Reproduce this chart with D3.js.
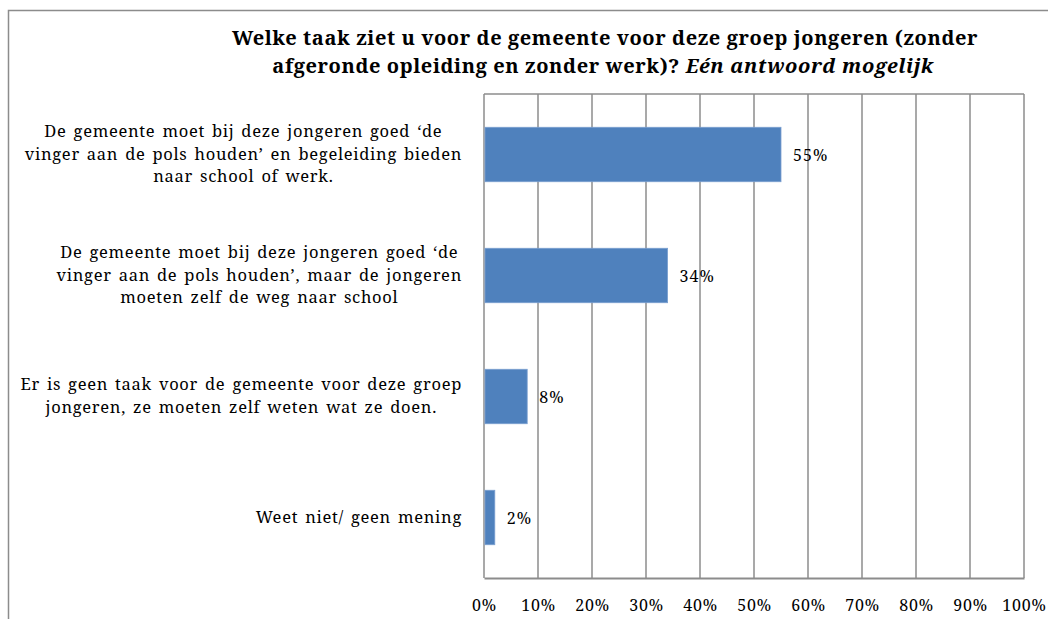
<!DOCTYPE html>
<html lang="nl">
<head>
<meta charset="utf-8">
<title>Taak gemeente jongeren</title>
<script src="https://d3js.org/d3.v7.min.js"></script>
<style>
    body { margin: 0; background: #fff; }
    svg { display: block; }
    text { font-family: "Noto Serif", "Liberation Serif", serif; fill: #000; }
    .grid line { stroke: #8c8c8c; stroke-width: 1.5px; }
</style>
</head>
<body>
<svg width="1048" height="619"></svg>
<script>
    // data
    var categories = [
        ["De gemeente moet bij deze jongeren goed \u2018de", "vinger aan de pols houden\u2019 en begeleiding bieden", "naar school of werk."],
        ["De gemeente moet bij deze jongeren goed \u2018de", "vinger aan de pols houden\u2019, maar de jongeren", "moeten zelf de weg naar school"],
        ["Er is geen taak voor de gemeente voor deze groep", "jongeren, ze moeten zelf weten wat ze doen."],
        ["Weet niet/ geen mening"]
    ];
    var values = [55, 34, 8, 2];
    var ticks = [0, 10, 20, 30, 40, 50, 60, 70, 80, 90, 100];
    var titleLine1 = "Welke taak ziet u voor de gemeente voor deze groep jongeren (zonder";
    var titleLine2 = "afgeronde opleiding en zonder werk)? ";
    var titleItalic = "Eén antwoord mogelijk";

    var svg = d3.select("svg"),
        margin = {top: 94, right: 24, bottom: 41, left: 484},
        width = 1048 - margin.left - margin.right,
        height = 619 - margin.top - margin.bottom;

    // outer chart border
    svg.append("rect")
        .attr("x", 8.5).attr("y", 10.5)
        .attr("width", 1100).attr("height", 700)
        .attr("fill", "none").attr("stroke", "#8c8c8c").attr("stroke-width", 1.5);

    var title = svg.append("text")
        .attr("x", 605).attr("y", 45)
        .attr("text-anchor", "middle")
        .style("font-size", "20px").style("font-weight", "bold").style("letter-spacing", "0.6px");
    title.append("tspan").text(titleLine1);
    var t2 = svg.append("text")
        .attr("x", 603).attr("y", 73)
        .attr("text-anchor", "middle")
        .style("font-size", "20px").style("font-weight", "bold").style("letter-spacing", "0.6px");
    t2.append("tspan").text(titleLine2);
    t2.append("tspan").style("font-style", "italic").text(titleItalic);

    var g = svg.append("g").attr("transform", "translate(" + margin.left + "," + margin.top + ")");

    var x = d3.scaleLinear().domain([0, 100]).range([0, width]);
    var y = d3.scaleBand().domain(d3.range(values.length)).range([0, height]).paddingInner(0.55).paddingOuter(0.275);

    // vertical gridlines
    g.append("g").attr("class", "grid")
        .selectAll("line").data(ticks).enter().append("line")
        .attr("x1", function(d) { return x(d); })
        .attr("x2", function(d) { return x(d); })
        .attr("y1", 0).attr("y2", height);
    g.append("line").attr("x1", 0).attr("x2", width).attr("y1", 0).attr("y2", 0)
        .attr("stroke", "#8c8c8c").attr("stroke-width", 1.5);

    g.selectAll(".bar").data(values).enter().append("rect")
        .attr("class", "bar")
        .attr("x", x(0) + 1)
        .attr("y", function(d, i) { return y(i); })
        .attr("width", function(d) { return x(d) - x(0) - 1; })
        .attr("height", y.bandwidth())
        .attr("fill", "#4f81bd")
        .attr("stroke", "#7a9fd0").attr("stroke-width", 0.8);

    g.selectAll(".val").data(values).enter().append("text")
        .attr("class", "val")
        .attr("x", function(d) { return x(d) + 12; })
        .attr("y", function(d, i) { return y(i) + y.bandwidth() / 2 + 6; })
        .style("font-size", "16px").style("letter-spacing", "1px")
        .text(function(d) { return d + "%"; });

    // x axis (bottom line + labels)
    var xAxis = g.append("g")
        .attr("transform", "translate(0," + height + ")")
        .call(d3.axisBottom(x).tickValues(ticks).tickSize(0).tickPadding(22)
            .tickFormat(function(d) { return d + "%"; }));
    xAxis.select(".domain").attr("stroke", "#8c8c8c").attr("stroke-width", 2);
    xAxis.selectAll("text")
        .style("font-family", "'Noto Serif', serif")
        .style("font-size", "16px").style("letter-spacing", "0.8px")
        .attr("fill", "#000");

    // category labels: block right-aligned, lines centered inside the block
    var labelRight = 462, lineH = 22.5;
    categories.forEach(function(lines, i) {
        var lg = svg.append("g");
        var texts = lines.map(function(l, j) {
            return lg.append("text")
                .attr("y", margin.top + y(i) + y.bandwidth() / 2 + 5 + (j - (lines.length - 1) / 2) * lineH)
                .attr("text-anchor", "middle")
                .style("font-size", "16.5px").style("letter-spacing", "0.7px").style("word-spacing", "2px")
                .text(l);
        });
        var w = d3.max(texts, function(t) { return t.node().getComputedTextLength(); });
        texts.forEach(function(t) { t.attr("x", labelRight - w / 2); });
    });
</script>
</body>
</html>
